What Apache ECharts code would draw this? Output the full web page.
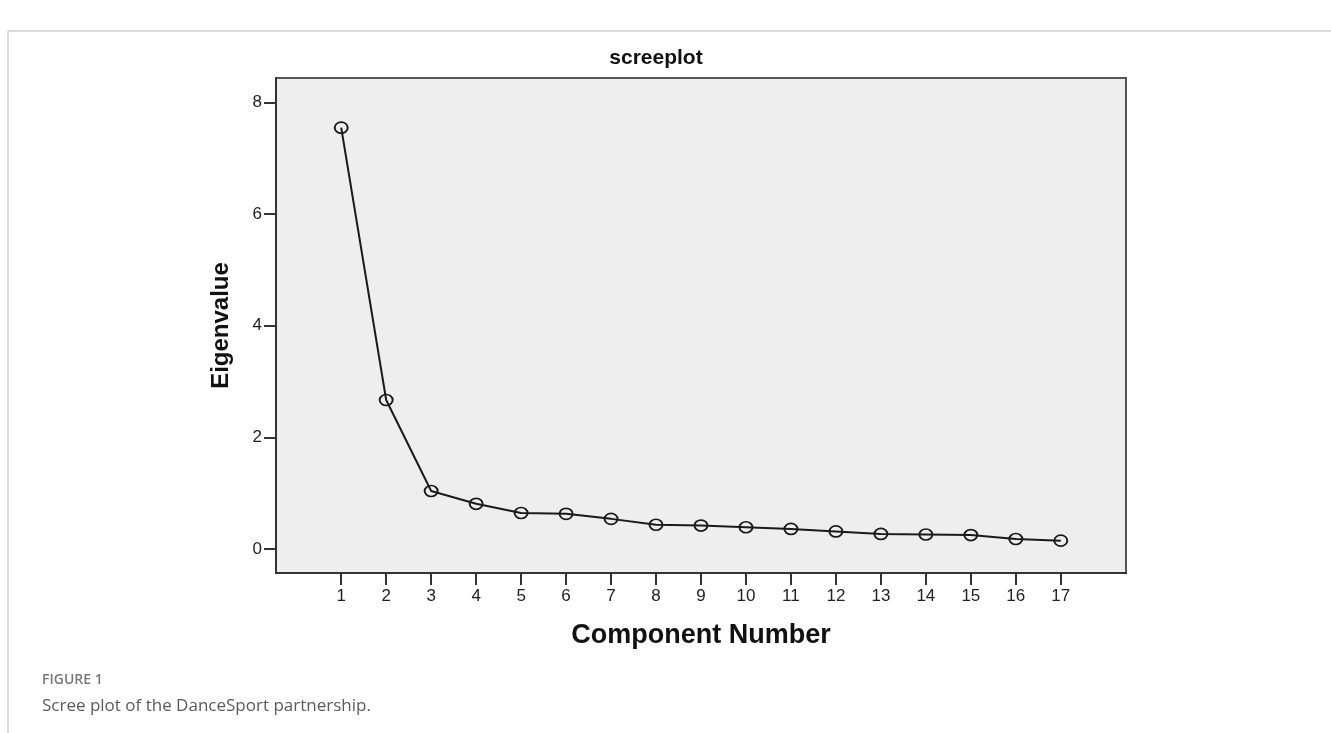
<!DOCTYPE html>
<html>
<head>
<meta charset="utf-8">
<script src="https://cdn.jsdelivr.net/npm/echarts@6/dist/echarts.min.js"></script>
<style>
html,body{margin:0;padding:0;background:#ffffff;}
#chart{width:1331px;height:733px;}
</style>
</head>
<body>
<div id="chart"></div>
<script>
// Data
const components = [1,2,3,4,5,6,7,8,9,10,11,12,13,14,15,16,17];
const eigenvalues = [7.55,2.67,1.04,0.81,0.645,0.63,0.54,0.435,0.42,0.39,0.36,0.315,0.27,0.26,0.25,0.18,0.15];
const yTicks = [0,2,4,6,8];
const xTicks = [1,2,3,4,5,6,7,8,9,10,11,12,13,14,15,16,17];
const chartTitle = 'screeplot';
const xName = 'Component Number';
const yName = 'Eigenvalue';
const figLabel = 'FIGURE 1';
const figCaption = 'Scree plot of the DanceSport partnership.';

const chart = echarts.init(document.getElementById('chart'), null, {renderer:'canvas'});
const seriesData = components.map((c,i)=>[c, eigenvalues[i]]);

const option = {
  animation:false,
  backgroundColor:'#ffffff',
  graphic:[
    {type:'line', shape:{x1:8,y1:31,x2:1331,y2:31}, style:{stroke:'#cfcfcf', lineWidth:1.5}, silent:true},
    {type:'line', shape:{x1:8,y1:31,x2:8,y2:733}, style:{stroke:'#cfcfcf', lineWidth:1.5}, silent:true},
    {type:'text', x:656, y:58, style:{text:chartTitle, fill:'#111', font:'bold 21px "Liberation Sans", Arial, sans-serif', textAlign:'center', textVerticalAlign:'middle'}},
    {type:'text', x:42, y:680, style:{text:figLabel, fill:'#777', font:'600 14px "Open Sans", sans-serif', textAlign:'left', textVerticalAlign:'middle'}},
    {type:'text', x:42, y:706, style:{text:figCaption, fill:'#5a5a5a', font:'17px "Open Sans", sans-serif', textAlign:'left', textVerticalAlign:'middle'}}
  ],
  grid:{left:276, top:78, width:850, height:495, show:true, backgroundColor:'#eeeeee', borderColor:'#555', borderWidth:2, containLabel:false},
  xAxis:{
    type:'value', min:-0.45, max:18.45,
    name:xName, nameLocation:'middle', nameGap:49,
    nameTextStyle:{fontFamily:'"Liberation Sans", Arial, sans-serif', fontWeight:'bold', fontSize:27, color:'#111'},
    axisLine:{show:true, onZero:false, lineStyle:{color:'#333', width:2}},
    axisTick:{show:true, length:12, customValues:xTicks, lineStyle:{color:'#333', width:2}},
    axisLabel:{show:true, customValues:xTicks, margin:15, fontFamily:'"Liberation Sans", Arial, sans-serif', fontSize:17, color:'#222'},
    splitLine:{show:false}
  },
  yAxis:{
    type:'value', min:-0.43, max:8.44,
    name:yName, nameLocation:'middle', nameGap:43, nameRotate:90,
    nameTextStyle:{fontFamily:'"Liberation Sans", Arial, sans-serif', fontWeight:'bold', fontSize:24, color:'#111'},
    axisLine:{show:true, onZero:false, lineStyle:{color:'#333', width:2}},
    axisTick:{show:true, length:12, customValues:yTicks, lineStyle:{color:'#333', width:2}},
    axisLabel:{show:true, customValues:yTicks, margin:14, fontFamily:'"Liberation Sans", Arial, sans-serif', fontSize:17, color:'#222'},
    splitLine:{show:false}
  },
  series:[{
    type:'line',
    data:seriesData,
    symbol:'circle',
    symbolSize:[13,11],
    showSymbol:true,
    lineStyle:{color:'#1a1a1a', width:2},
    itemStyle:{color:'rgba(0,0,0,0)', borderColor:'#1a1a1a', borderWidth:1.8},
    emphasis:{disabled:true},
    z:3
  }]
};
chart.setOption(option);
</script>
</body>
</html>
